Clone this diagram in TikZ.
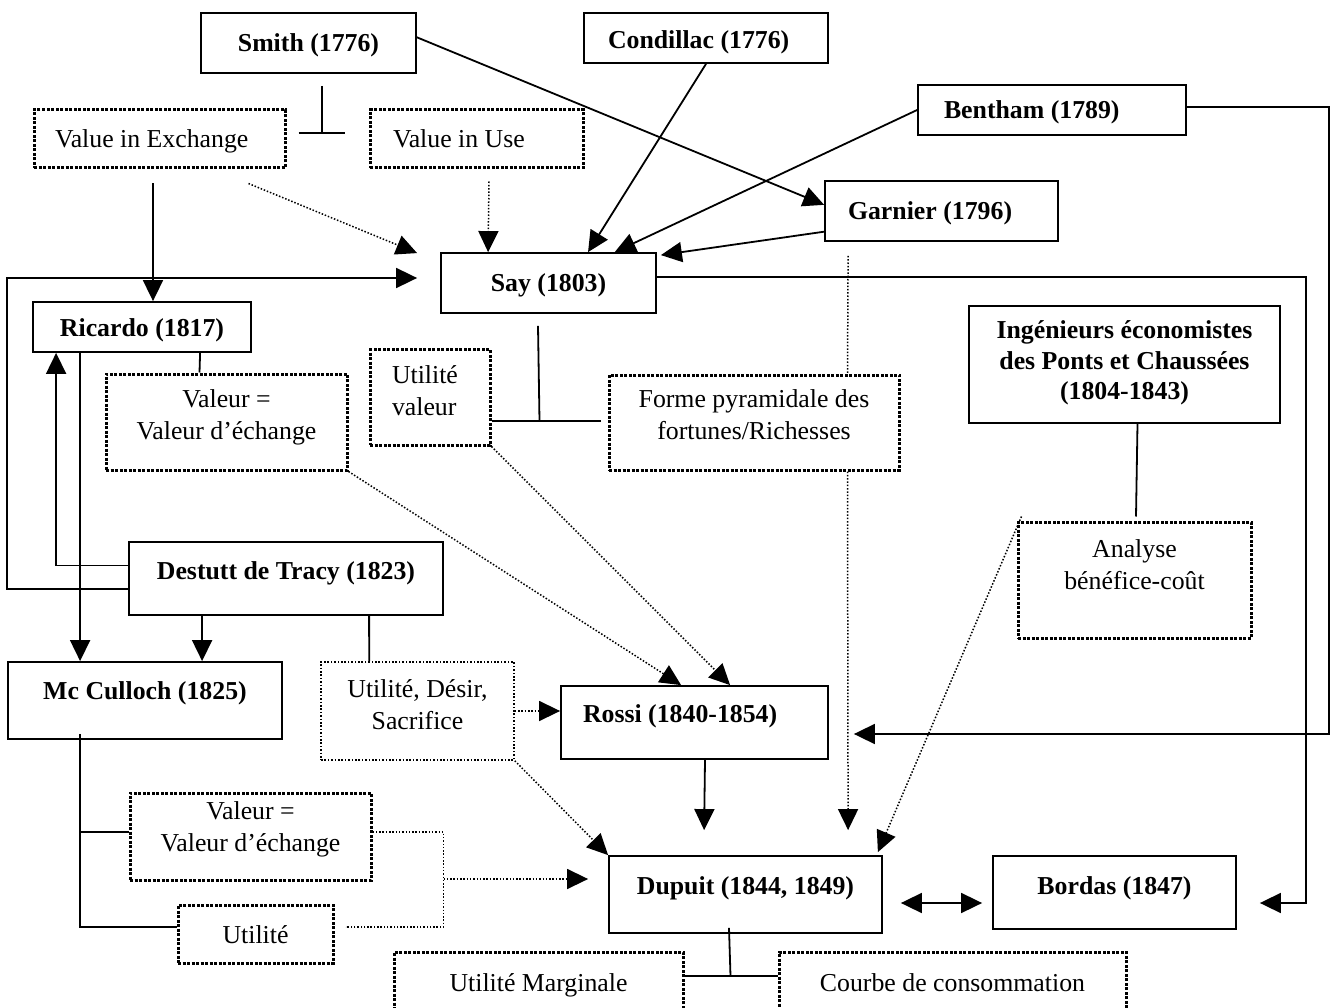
\documentclass[tikz,border=0pt]{standalone}
\usepackage{fontspec}
\setmainfont{Liberation Serif}
\usetikzlibrary{arrows.meta,calc}

\begin{document}
\begin{tikzpicture}[x=1pt,y=-1pt,>={Triangle[length=21pt,width=20pt]}]
\tikzstyle{every node}=[inner sep=0pt, font=\fontsize{25.8}{32}\selectfont]
\tikzstyle{author}=[draw, line width=1.8pt, font=\fontsize{25.8}{32}\selectfont\bfseries]
\tikzstyle{note}=[draw, line width=3pt, dash pattern=on 3pt off 1.5pt]
\tikzstyle{thinnote}=[draw, line width=1.6pt, dash pattern=on 1.6pt off 1.8pt]
\tikzstyle{oneline}=[text height=24pt, text depth=6pt]
\tikzstyle{link}=[line width=1.8pt]
\tikzstyle{hint}=[line width=1.5pt, dash pattern=on 1.5pt off 1.8pt]
\useasboundingbox (0,0) rectangle (1331,1008);

\node[author, oneline, minimum width=215pt, minimum height=60pt] (smith) at (308.5,43) {Smith (1776)};
\node[author, oneline, minimum height=50pt, inner xsep=24pt, text depth=3pt] (condillac) at (706,38) {\makebox[196pt][l]{Condillac (1776)}};
\node[author, oneline, minimum height=50pt, inner xsep=26pt] (bentham) at (1052,110) {\makebox[216pt][l]{Bentham (1789)}};
\node[author, oneline, minimum height=60pt, inner xsep=23pt] (garnier) at (941.5,211) {\makebox[187pt][l]{Garnier (1796)}};
\node[note, oneline, minimum height=58pt, inner xsep=21pt] (vexch) at (159.5,139) {\makebox[209pt][l]{Value in Exchange}};
\node[note, oneline, minimum height=58pt, inner xsep=23pt] (vuse) at (476.5,139) {\makebox[167pt][l]{Value in Use}};
\node[author, oneline, minimum width=215pt, minimum height=60pt] (say) at (548.5,283) {Say (1803)};
\node[author, oneline, minimum width=218pt, minimum height=50pt, text depth=4pt] (ricardo) at (142,327) {Ricardo (1817)};
\node[note, minimum width=241pt, minimum height=96pt, align=center, text depth=14pt] (valeur1) at (226.5,422) {Valeur =\\Valeur d’échange};
\node[note, minimum height=95pt, align=left, inner xsep=22pt, text depth=14pt] (utilv) at (430,397.5) {\makebox[76pt][l]{Utilité}\\valeur};
\node[note, minimum width=290pt, minimum height=95pt, align=center, text depth=16pt] (forme) at (754,422.5) {Forme pyramidale des\\fortunes/Richesses};
\node[author, minimum width=311pt, minimum height=117pt, align=center, font=\fontsize{25.8}{30.5}\selectfont\bfseries, text depth=8pt] (ingen) at (1124.5,364.5) {Ingénieurs économistes\\des Ponts et Chaussées\\(1804-1843)};
\node[note, minimum width=233pt, minimum height=116pt, align=center, text depth=31pt] (analyse) at (1134.5,580) {Analyse\\bénéfice-coût};
\node[author, oneline, minimum width=314pt, minimum height=73pt, text depth=23pt] (destutt) at (286,578.5) {Destutt de Tracy (1823)};
\node[author, oneline, minimum width=274pt, minimum height=77pt, text depth=27pt] (mcculloch) at (145,700.5) {Mc Culloch (1825)};
\node[thinnote, minimum width=193pt, minimum height=98pt, align=center, text depth=12pt] (uds) at (417.5,711) {Utilité, Désir,\\Sacrifice};
\node[author, oneline, minimum height=73pt, inner xsep=22pt, text depth=25pt] (rossi) at (694.5,722.5) {\makebox[223pt][l]{Rossi (1840-1854)}};
\node[note, minimum width=241pt, minimum height=87pt, align=center, text depth=19pt] (valeur2) at (250.5,836.5) {Valeur =\\Valeur d’échange};
\node[note, oneline, minimum width=155pt, minimum height=58pt] (utilite) at (255.5,934) {Utilité};
\node[author, oneline, minimum width=273pt, minimum height=77pt, text depth=25pt] (dupuit) at (745.5,894.5) {Dupuit (1844, 1849)};
\node[author, oneline, minimum width=243pt, minimum height=73pt, text depth=21pt] (bordas) at (1114.5,892.5) {Bordas (1847)};
\node[note, oneline, minimum width=289pt, minimum height=60pt] (umarg) at (538.5,982) {Utilité Marginale};
\node[note, oneline, minimum width=347pt, minimum height=60pt] (courbe) at (952.5,982) {Courbe de consommation};

\draw[link,->] (smith.3) -- (garnier.177);
\draw[link,->] (condillac.south) -- (say.38);
\draw[link,->] (bentham.west) -- (say.25);
\draw[link,->] (garnier.190) -- ($(say.north east)+(4,3)$);
\draw[hint,->] ($(vexch.south)+(89,14)$) -- ($(say.north west)+(-23,1)$);
\draw[hint,->] ($(vuse.south)+(12.5,12)$) -- ($(say.north west)+(48,0)$);
\draw[link,->] ($(vexch.south)+(-6.5,14)$) -- ($(ricardo.north)+(11,0)$);
\draw[link] ($(smith.south)+(13.5,12)$) -- ++(0,48);
\draw[link] ($(vexch.east)+(12,-6)$) -- ($(vuse.west)+(-24,-6)$);
\draw[link,->] ($(destutt.west)+(0,10.5)$) -- ++(-121,0) |- ($(say.west)+(-23,-5)$);
\draw[link,->] ($(destutt.west)+(0,-13)$) -| ($(ricardo.south west)+(24,0)$);
\draw[link,->] ($(ricardo.south west)+(48,0)$) -- ($(mcculloch.north west)+(73,0)$);
\draw[link] ($(ricardo.south west)+(168,0)$) -- ($(valeur1.north west)+(95,0)$);
\draw[link,->] ($(destutt.south west)+(74,0)$) -- ($(mcculloch.north west)+(195,0)$);
\draw[link] ($(destutt.south west)+(241,0)$) -- ($(uds.north west)+(49,0)$);
\draw[hint,->] (valeur1.south east) -- ($(rossi.north west)+(121,0)$);
\draw[hint,->] (utilv.south east) -- ($(rossi.north west)+(170,0)$);
\draw[link] ($(say.south)+(-10.5,12)$) -- ($(utilv.east)+(48,23.5)$);
\draw[link] ($(utilv.east)+(0,23.5)$) -- ($(forme.west)+(-7,-1.5)$);
\draw[hint] ($(garnier.south west)+(24,14)$) -- ($(forme.north west)+(240,0)$);
\draw[hint,->] ($(forme.south west)+(240,0)$) -- ($(dupuit.north west)+(240,-25)$);
\draw[link,->] ($(say.east)+(0,-6)$) -| ($(bordas.east)+(69,10.5)$) -- ($(bordas.east)+(23,10.5)$);
\draw[link,->] ($(bentham.east)+(0,-3)$) -| ($(rossi.east)+(500,11.5)$) -- ($(rossi.east)+(25,11.5)$);
\draw[link] ($(ingen.south)+(13,0)$) -- ($(analyse.north west)+(119.5,-4)$);
\draw[hint,->] ($(analyse.north west)+(5,-4)$) -- ($(dupuit.north east)+(-5,-3)$);
\draw[hint,->] (uds.south east) -- (dupuit.north west);
\draw[hint,->] (uds.east) -- ($(rossi.west)+(0,-11.5)$);
\draw[link,->] ($(rossi.south)+(10.5,0)$) -- ($(dupuit.north west)+(96,-25)$);
\draw[link] ($(mcculloch.south west)+(73,-6)$) |- ($(utilite.west)+(0,-7)$);
\draw[link] ($(valeur2.west)+(0,-4.5)$) -- ++(-49,0);
\draw[hint] ($(valeur2.east)+(0,-4.5)$) -- ++(71,0) |- ($(utilite.east)+(11,-7)$);
\draw[hint,->] ($(valeur2.east)+(71,42.5)$) -- ($(dupuit.west)+(-20,-15.5)$);
\draw[link,<->] ($(dupuit.east)+(18,8.5)$) -- ($(bordas.west)+(-10,10.5)$);
\draw[link] ($(dupuit.south)+(-16.5,-6)$) -- ($(umarg.east)+(46,-6)$);
\draw[link] ($(umarg.east)+(0,-6)$) -- ($(courbe.west)+(0,-6)$);
\end{tikzpicture}
\end{document}
